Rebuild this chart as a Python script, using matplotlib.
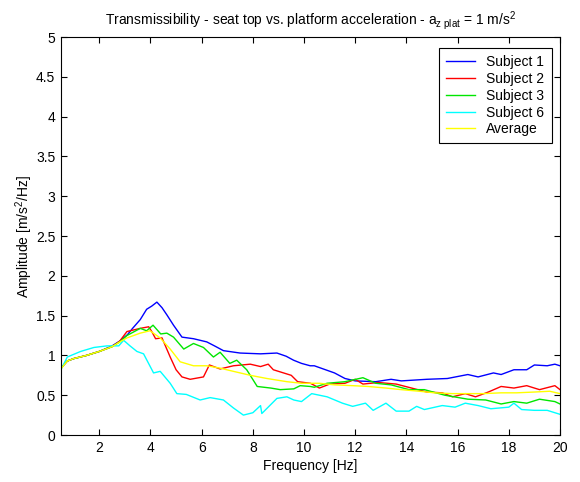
import matplotlib
matplotlib.use('Agg')
import matplotlib.pyplot as plt

plt.rcParams['font.family'] = ['Liberation Sans', 'DejaVu Sans']
plt.rcParams['mathtext.fontset'] = 'custom'
plt.rcParams['mathtext.rm'] = 'Liberation Sans'
plt.rcParams['mathtext.it'] = 'Liberation Sans'

# Frequency [Hz] / amplitude values
f_s1 = [0.5, 0.75, 1.0, 1.5, 2.0, 2.5, 2.8, 3.1, 3.3, 3.6, 3.85, 4.05, 4.25, 4.45, 4.64, 4.9, 5.23, 5.68, 6.2, 6.5, 6.85,
        7.5, 8.3, 8.94, 9.3, 9.59, 9.9, 10.24, 10.4, 11.19, 11.6, 12.0, 12.8, 13.4, 13.8, 14.8, 15.6, 16.4, 16.8,
        17.4, 17.7, 18.2, 18.7, 19.0, 19.5, 19.8, 20.0]
a_s1 = [0.84, 0.93, 0.96, 1.0, 1.05, 1.12, 1.18, 1.26, 1.34, 1.45, 1.58, 1.62, 1.67, 1.6, 1.51, 1.38, 1.23, 1.21, 1.17, 1.12, 1.06,
        1.03, 1.02, 1.03, 0.99, 0.94, 0.9, 0.87, 0.87, 0.78, 0.71, 0.68, 0.67, 0.70, 0.68, 0.70, 0.71, 0.76, 0.73,
        0.78, 0.76, 0.82, 0.82, 0.88, 0.87, 0.89, 0.87]

f_s2 = [0.5, 0.75, 1.0, 1.5, 2.0, 2.5, 2.8, 3.08, 3.6, 3.93, 4.05, 4.2, 4.45, 4.77, 5.0, 5.23, 5.55, 6.07, 6.3, 6.72, 7.24,
        7.9, 8.3, 8.6, 8.8, 9.5, 9.75, 10.0, 10.25, 10.6, 11.0, 11.6, 12.0, 12.3, 12.9, 13.6, 14.2, 14.8, 15.4,
        15.8, 16.3, 16.7, 17.2, 17.7, 18.2, 18.7, 19.2, 19.8, 20.0]
a_s2 = [0.84, 0.93, 0.96, 1.0, 1.05, 1.11, 1.18, 1.30, 1.34, 1.36, 1.30, 1.21, 1.22, 0.98, 0.82, 0.73, 0.70, 0.73, 0.88, 0.83, 0.87,
        0.89, 0.86, 0.89, 0.82, 0.75, 0.67, 0.66, 0.65, 0.59, 0.64, 0.65, 0.70, 0.64, 0.66, 0.64, 0.59, 0.54, 0.53,
        0.48, 0.52, 0.48, 0.54, 0.61, 0.59, 0.62, 0.57, 0.62, 0.57]

f_s3 = [0.5, 0.75, 1.0, 1.5, 2.0, 2.5, 2.8, 3.08, 3.6, 3.85, 4.1, 4.4, 4.64, 4.9, 5.3, 5.68, 6.07, 6.46, 6.72, 7.1, 7.37,
        7.76, 8.17, 8.7, 9.07, 9.6, 9.85, 10.24, 10.4, 10.9, 11.6, 12.3, 12.8, 13.4, 14.1, 14.7, 15.5, 16.4, 17.1,
        17.7, 18.2, 18.7, 19.2, 19.8, 20.0]
a_s3 = [0.84, 0.93, 0.96, 1.0, 1.05, 1.11, 1.17, 1.25, 1.34, 1.31, 1.38, 1.27, 1.28, 1.23, 1.08, 1.15, 1.10, 0.98, 1.04, 0.90, 0.94,
        0.82, 0.61, 0.59, 0.57, 0.58, 0.62, 0.61, 0.60, 0.65, 0.67, 0.72, 0.65, 0.63, 0.57, 0.57, 0.50, 0.45, 0.44,
        0.39, 0.42, 0.40, 0.45, 0.42, 0.39]

f_s6 = [0.5, 0.75, 1.27, 1.79, 2.3, 2.76, 2.95, 3.2, 3.47, 3.73, 4.12, 4.38, 4.77, 5.03, 5.4, 5.94, 6.33, 6.85, 7.24, 7.63,
        8.0, 8.3, 8.35, 8.94, 9.33, 9.6, 9.9, 10.3, 10.9, 11.5, 11.9, 12.4, 12.7, 13.2, 13.6, 14.1, 14.4, 14.7,
        15.4, 15.9, 16.3, 16.8, 17.3, 18.0, 18.2, 18.5, 19.0, 19.5, 20.0]
a_s6 = [0.82, 0.98, 1.05, 1.10, 1.12, 1.12, 1.19, 1.12, 1.05, 1.02, 0.78, 0.80, 0.65, 0.52, 0.51, 0.44, 0.47, 0.44, 0.34, 0.25,
        0.28, 0.37, 0.27, 0.46, 0.48, 0.44, 0.42, 0.52, 0.48, 0.40, 0.36, 0.40, 0.31, 0.40, 0.30, 0.30, 0.36, 0.32,
        0.37, 0.35, 0.40, 0.37, 0.33, 0.35, 0.40, 0.32, 0.31, 0.31, 0.26]

f_avg = [0.5, 0.75, 1.0, 1.5, 2.0, 2.5, 2.8, 3.08, 3.6, 3.98, 4.38, 4.77, 5.16, 5.68, 6.2, 6.72, 7.24, 7.9, 8.55, 9.33,
         9.9, 10.6, 11.2, 11.9, 12.5, 13.2, 13.8, 14.5, 15.1, 15.8, 16.4, 17.0, 17.7, 18.3, 19.0, 19.6, 20.0]
a_avg = [0.83, 0.93, 0.96, 1.0, 1.05, 1.11, 1.17, 1.22, 1.28, 1.31, 1.22, 1.08, 0.92, 0.87, 0.87, 0.84, 0.80, 0.75, 0.71, 0.67,
         0.65, 0.65, 0.63, 0.62, 0.61, 0.59, 0.57, 0.55, 0.53, 0.52, 0.52, 0.52, 0.53, 0.53, 0.54, 0.55, 0.52]

series = [
    ('Subject 1', f_s1, a_s1, '#0000ff'),
    ('Subject 2', f_s2, a_s2, '#ff0000'),
    ('Subject 3', f_s3, a_s3, '#00e600'),
    ('Subject 6', f_s6, a_s6, '#00ffff'),
    ('Average', f_avg, a_avg, '#ffff00'),
]

fig = plt.figure(figsize=(5.8, 4.82), dpi=100)
ax = fig.add_axes([0.105, 0.0975, 0.8605, 0.8255])

for name, f, a, c in series:
    ax.plot(f, a, color=c, lw=1.0, label=name)

ax.set_xlim(0.5, 20)
ax.set_ylim(0, 5)
ax.set_xticks(range(2, 21, 2))
ax.set_yticks([0, 0.5, 1, 1.5, 2, 2.5, 3, 3.5, 4, 4.5, 5])
ax.set_yticklabels(['0', '0.5', '1', '1.5', '2', '2.5', '3', '3.5', '4', '4.5', '5'])
ax.tick_params(direction='in', top=True, right=True, labelsize=10, length=4, width=0.8, pad=4)
for s in ax.spines.values():
    s.set_linewidth(0.8)

ax.set_xlabel('Frequency [Hz]', fontsize=10, labelpad=3)
ax.set_ylabel('Amplitude [m/s$^2$/Hz]', fontsize=10, labelpad=1)
ax.set_title('Transmissibility - seat top vs. platform acceleration - a$_{z\\ plat}$ = 1 m/s$^2$',
             fontsize=10, pad=9)

leg = ax.legend(loc='upper right', bbox_to_anchor=(0.983, 0.972), borderaxespad=0,
                fontsize=10, fancybox=False, framealpha=1, edgecolor='black',
                handlelength=2.1, handletextpad=0.8, borderpad=0.5, labelspacing=0.2)
leg.get_frame().set_linewidth(0.8)

fig.savefig('out.png', dpi=100, facecolor='white')
